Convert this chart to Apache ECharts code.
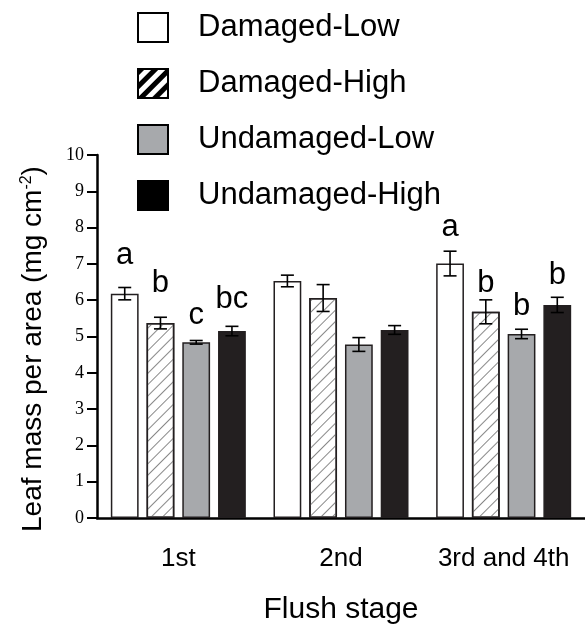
<!DOCTYPE html>
<html>
<head>
<meta charset="utf-8">
<script src="https://cdn.jsdelivr.net/npm/echarts@6/dist/echarts.min.js"></script>
<style>html,body{margin:0;padding:0;background:#fff;}#c{width:585px;height:630px;}</style>
</head>
<body>
<div id="c"></div>
<script>
const categories = ['1st', '2nd', '3rd and 4th'];
const seriesNames = ['Damaged-Low', 'Damaged-High', 'Undamaged-Low', 'Undamaged-High'];
const damagedLow = [6.18, 6.53, 7.01];
const damagedLowSE = [0.17, 0.16, 0.34];
const damagedHigh = [5.37, 6.06, 5.68];
const damagedHighSE = [0.16, 0.37, 0.33];
const undamagedLow = [4.84, 4.78, 5.07];
const undamagedLowSE = [0.05, 0.19, 0.13];
const undamagedHigh = [5.15, 5.18, 5.87];
const undamagedHighSE = [0.13, 0.12, 0.21];
const lettersDL = ['a', '', 'a'];
const lettersDH = ['b', '', 'b'];
const lettersUL = ['c', '', 'b'];
const lettersUH = ['bc', '', 'b'];
const letterYDL = [7.24, null, 8.0];
const letterYDH = [6.46, null, 6.46];
const letterYUL = [5.57, null, 5.84];
const letterYUH = [6.01, null, 6.68];
const yTicks = [0, 1, 2, 3, 4, 5, 6, 7, 8, 9, 10];

const means = [damagedLow, damagedHigh, undamagedLow, undamagedHigh];
const ses = [damagedLowSE, damagedHighSE, undamagedLowSE, undamagedHighSE];
const letters = [lettersDL, lettersDH, lettersUL, lettersUH];
const letterYs = [letterYDL, letterYDH, letterYUL, letterYUH];

const FONT = 'Liberation Sans';
const EDGE = '#231f20';
const CAT_GAP = 0.17, BAR_GAP = 0.286;
const hatch = {symbol: 'rect', symbolSize: 1, dashArrayX: [1, 0], dashArrayY: [1, 7], rotation: -Math.PI / 4, color: '#888'};
const legendHatch = {symbol: 'rect', symbolSize: 1, dashArrayX: [1, 0], dashArrayY: [5, 5], rotation: -Math.PI / 4, color: '#000'};
const styles = [
  {color: '#ffffff', borderColor: EDGE, borderWidth: 1.5},
  {color: '#ffffff', borderColor: EDGE, borderWidth: 1.5, decal: hatch},
  {color: '#a7a9ac', borderColor: EDGE, borderWidth: 1.5},
  {color: '#231f20', borderColor: EDGE, borderWidth: 1.5}
];

const series = [];
seriesNames.forEach((name, i) => {
  series.push({
    name: name, type: 'bar', data: means[i],
    barCategoryGap: (CAT_GAP * 100) + '%', barGap: (BAR_GAP * 100) + '%',
    itemStyle: styles[i], z: 2
  });
});
seriesNames.forEach((name, i) => {
  series.push({
    name: 'err' + i, type: 'custom', z: 5,
    data: means[i].map((m, k) => [k, m, ses[i][k]]),
    encode: {x: 0, y: 1},
    renderItem: function (params, api) {
      const cat = api.value(0), m = api.value(1), e = api.value(2);
      const band = api.size([1, 0])[0];
      const bw = band * (1 - CAT_GAP) / (4 + 3 * BAR_GAP);
      const cx = api.coord([cat, m])[0] + (i - 1.5) * bw * (1 + BAR_GAP);
      const top = api.coord([cat, m + e])[1];
      const bot = api.coord([cat, m - e])[1];
      const hw = 6.5;
      const ls = {stroke: '#000', lineWidth: 1.6};
      const children = [
        {type: 'line', shape: {x1: cx, y1: top, x2: cx, y2: bot}, style: ls},
        {type: 'line', shape: {x1: cx - hw, y1: top, x2: cx + hw, y2: top}, style: ls},
        {type: 'line', shape: {x1: cx - hw, y1: bot, x2: cx + hw, y2: bot}, style: ls}
      ];
      const idx = params.dataIndex;
      if (letters[i][idx]) {
        children.push({
          type: 'text', x: cx, y: api.coord([cat, letterYs[i][idx]])[1],
          style: {text: letters[i][idx], fontSize: 31, fontFamily: FONT, fill: '#000', align: 'center', verticalAlign: 'middle'}
        });
      }
      return {type: 'group', children: children};
    }
  });
});

const chart = echarts.init(document.getElementById('c'), null, {renderer: 'canvas'});
chart.setOption({
  animation: false,
  backgroundColor: '#fff',
  grid: {left: 97, right: -3, top: 155, bottom: 105},
  legend: {
    orient: 'vertical', left: 137, top: 12, padding: 0, icon: 'rect',
    itemWidth: 30, itemHeight: 29, itemGap: 25,
    selectedMode: false,
    textStyle: {fontSize: 31, fontFamily: FONT, color: '#000', lineHeight: 29, padding: [0, 0, 0, 25]},
    data: [
      {name: seriesNames[0], itemStyle: {color: '#fff', borderColor: '#000', borderWidth: 2}},
      {name: seriesNames[1], itemStyle: {color: '#fff', borderColor: '#000', borderWidth: 2, decal: legendHatch}},
      {name: seriesNames[2], itemStyle: {color: '#a7a9ac', borderColor: '#000', borderWidth: 2}},
      {name: seriesNames[3], itemStyle: {color: '#000', borderColor: '#000', borderWidth: 2}}
    ]
  },
  xAxis: {
    type: 'category', data: categories,
    axisLine: {lineStyle: {color: '#000', width: 2.5}},
    axisTick: {length: 11, lineStyle: {color: '#000', width: 2.5}},
    axisLabel: {interval: 0, fontSize: 26, margin: 28, color: '#000', fontFamily: FONT},
    name: 'Flush stage', nameLocation: 'middle', nameGap: 77,
    nameTextStyle: {fontSize: 30, fontFamily: FONT, color: '#000'}
  },
  yAxis: {
    type: 'value', min: yTicks[0], max: yTicks[yTicks.length - 1], interval: yTicks[1] - yTicks[0],
    axisLine: {show: true, lineStyle: {color: '#000', width: 2.5}},
    axisTick: {show: true, length: 10, lineStyle: {color: '#000', width: 2}},
    axisLabel: {margin: 13, fontFamily: 'Liberation Serif', fontSize: 18, color: '#000'},
    splitLine: {show: false}
  },
  graphic: [{
    type: 'text', x: 33, y: 349, rotation: Math.PI / 2,
    style: {
      text: '{a|Leaf mass per area (mg cm}{s|-2}{a|)}',
      align: 'center', verticalAlign: 'middle',
      rich: {
        a: {fontSize: 28, fontFamily: FONT, fill: '#000', color: '#000'},
        s: {fontSize: 16, fontFamily: FONT, fill: '#000', color: '#000', verticalAlign: 'top', padding: [0, 0, 12, 0]}
      }
    }
  }],
  series: series
});
</script>
</body>
</html>
